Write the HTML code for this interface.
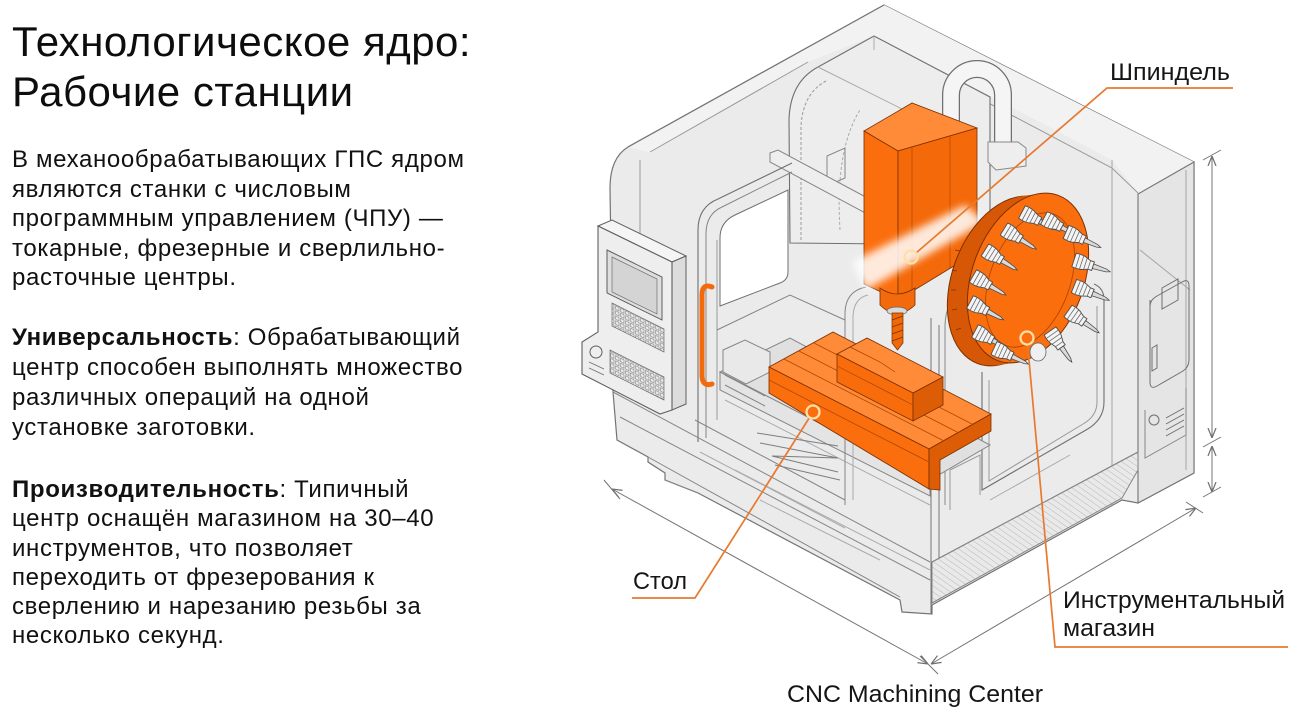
<!DOCTYPE html>
<html><head><meta charset="utf-8">
<style>
html,body{margin:0;padding:0;background:#fff}
body{width:1300px;height:714px;position:relative;overflow:hidden;font-family:"Liberation Sans","Noto Sans CJK SC",sans-serif;color:#111}
.t{position:absolute;left:12px;top:17px;font-size:42px;line-height:50px;letter-spacing:0.5px;white-space:nowrap;color:#0d0d0d}
.p{position:absolute;left:12px;font-size:24px;letter-spacing:0.65px;white-space:nowrap;color:#111}
.p b{font-weight:bold}
svg text{font-family:"Liberation Sans",sans-serif;fill:#151515}
</style></head><body>
<div class="t">Технологическое ядро:<br>Рабочие станции</div>
<div class="p" style="top:145px;line-height:29.6px">В механообрабатывающих ГПС ядром<br>являются станки с числовым<br>программным управлением (ЧПУ) —<br>токарные, фрезерные и сверлильно-<br>расточные центры.</div>
<div class="p" style="top:323px;line-height:30px"><b>Универсальность</b>: Обрабатывающий<br>центр способен выполнять множество<br>различных операций на одной<br>установке заготовки.</div>
<div class="p" style="top:475px;line-height:29.3px"><b>Производительность</b>: Типичный<br>центр оснащён магазином на 30–40<br>инструментов, что позволяет<br>переходить от фрезерования к<br>сверлению и нарезанию резьбы за<br>несколько секунд.</div>

<svg xmlns="http://www.w3.org/2000/svg" width="1300" height="714" viewBox="0 0 1300 714" style="position:absolute;left:0;top:0">
<defs>
<filter id="bl" x="-50%" y="-50%" width="200%" height="200%"><feGaussianBlur stdDeviation="4"/></filter>
<marker id="ar" viewBox="0 0 10 10" refX="10" refY="5" markerWidth="10" markerHeight="10" markerUnits="userSpaceOnUse" orient="auto-start-reverse"><path d="M0,1 L10,5 L0,9" fill="none" stroke="#6f6f6f" stroke-width="1.2"/></marker>
<pattern id="hatch" width="5" height="5" patternUnits="userSpaceOnUse" patternTransform="rotate(-55)"><rect width="5" height="5" fill="#e9e9e9"/><line x1="0" y1="0" x2="0" y2="5" stroke="#b8b8b8" stroke-width="1"/></pattern>
<pattern id="kp" width="5" height="5" patternUnits="userSpaceOnUse" patternTransform="skewY(26)"><rect width="5" height="5" fill="#ececec"/><rect x="0.6" y="0.6" width="3.4" height="3.4" fill="none" stroke="#7a7a7a" stroke-width="0.6"/></pattern>
<g id="tl">
<path d="M0,-7 C5,-8 10,-7 12,-6 L16,-4.5 L20,-4.5 L20,4.5 L16,4.5 L12,6 C10,7 5,8 0,7 Z" fill="#f4f4f4" stroke="#4d4d4d" stroke-width="0.9"/>
<path d="M4,-7.5 L4,7.5 M8,-7 L8,7 M12,-5.8 L12,5.8 M16,-4.5 L16,4.5" stroke="#6a6a6a" stroke-width="0.8"/>
<path d="M20,-2.4 L34,-1.4 L38,0 L34,1.4 L20,2.4 Z" fill="#dadada" stroke="#4d4d4d" stroke-width="0.8"/>
</g>
</defs>

<!-- enclosure silhouette -->
<path d="M884,5 L1194,162 L1194,473 L1138,503 L1122,500 L932,605 L932,614 L902,612 L900,600 L698,493 L665,480 L665,473 L648,462 L648,457 L617,440 L613,392 L610,188 Q610,158 628,147 Z" fill="#ebebeb" stroke="#747474" stroke-width="1.2"/>
<path d="M884,5 L628,147 Q640,150 650,152 L808,62 L874,36 L960,80 L1112,160 L1138,193 L1194,162 Z" fill="#f2f2f2" stroke="none"/>
<path d="M884,5 L628,147" stroke="#747474" stroke-width="1.2"/>
<path d="M650,152 L808,62 M960,88 L1112,168 L1138,193 M640,160 L640,380" stroke="#9a9a9a" fill="none"/>
<!-- right cabinet -->
<polygon points="1138,194 1194,162 1194,473 1138,503" fill="#e5e5e5" stroke="#747474" stroke-width="1.1"/>
<path d="M1112,160 L1112,505 M1186,170 L1186,470 M1140,250 L1190,290" stroke="#a5a5a5" fill="none"/>
<path d="M1150,300 L1150,382 Q1150,390 1157,386 L1183,371 Q1189,367 1189,360 L1189,286 Q1189,278 1182,282 L1157,296 Q1150,300 1150,306 Z" fill="none" stroke="#6f6f6f"/>
<polygon points="1162,288 1178,279 1178,300 1162,309" fill="none" stroke="#6f6f6f"/>
<polygon points="1152,348 1157,345 1157,368 1152,371" fill="none" stroke="#6f6f6f"/>
<path d="M1145,410 L1145,458 L1186,435 L1186,388" fill="none" stroke="#888"/>
<circle cx="1154" cy="420" r="5" fill="none" stroke="#6f6f6f"/>
<path d="M1166,418 L1184,408 M1166,424 L1184,414 M1166,430 L1184,420 M1166,436 L1184,426" stroke="#6f6f6f"/>

<!-- column housing -->
<path d="M790,243 L789,120 Q790,82 818,67 L874,36 L990,97 L990,245 Z" fill="#ededed" stroke="#6f6f6f" stroke-width="1.1"/>
<path d="M801,240 L801,126 Q803,92 828,80" fill="none" stroke="#999" stroke-dasharray="3 2"/>
<path d="M840,230 Q835,150 860,110" fill="none" stroke="#aaa" stroke-dasharray="3 2"/>
<polygon points="827,156 845,148 845,178 827,186" fill="none" stroke="#888"/>
<path d="M874,36 L874,50 M818,67 L940,128" stroke="#aaa" fill="none"/>
<!-- arch tube -->
<path d="M951,125 L951,95 A26,26 0 0 1 1003,95 L1003,146" fill="none" stroke="#6f6f6f" stroke-width="18"/>
<path d="M951,125 L951,95 A26,26 0 0 1 1003,95 L1003,146" fill="none" stroke="#f5f5f5" stroke-width="15.5"/>
<polygon points="988,142 1018,142 1026,148 1026,166 996,170 988,162" fill="#eeeeee" stroke="#888"/>

<!-- interior right frame -->
<path d="M982,372 L982,490 L1086,430 Q1104,420 1104,402 L1104,300 Q1104,288 1094,284" fill="none" stroke="#6f6f6f" stroke-width="1.1"/>
<path d="M989,380 L989,481 L1083,424 Q1097,416 1097,402 L1097,306" fill="none" stroke="#999"/>
<path d="M945,505 L945,325 Q946,300 962,292" fill="none" stroke="#888"/>
<path d="M931,318 L931,614 M939,325 L939,600" fill="none" stroke="#747474"/>
<path d="M950,470 L980,455 L980,495 M950,470 L950,510" stroke="#999" fill="none"/>
<!-- interior floor lines -->
<path d="M725,400 L930,505 M735,470 L930,570 M760,500 L880,560 M990,500 L1070,455 M700,452 L845,528" stroke="#ababab" fill="none"/>
<polygon points="720,372 790,338 990,445 930,480" fill="#e0e0e0" stroke="#858585"/>
<polygon points="720,372 930,480 930,496 720,390" fill="#e4e4e4" stroke="#858585"/>
<polygon points="723,350 745,340 770,352 770,372 746,384 723,372" fill="#e9e9e9" stroke="#858585"/>
<path d="M725,375 L765,396 M725,385 L765,406" stroke="#858585" fill="none"/>
<path d="M757,433 L838,446 M760,443 L838,458 L772,456 L838,472 M775,465 L840,480" stroke="#7d7d7d" fill="none"/>
<!-- center pillar -->
<path d="M845,505 L845,312 Q846,291 866,287" fill="none" stroke="#858585"/>
<path d="M853,500 L853,316 Q854,298 868,295" fill="none" stroke="#aaa"/>

<!-- bar -->
<polygon points="770,153 778,150 918,225 918,234 912,238 770,162" fill="#eeeeee" stroke="#858585"/>

<!-- door frame & window -->
<path d="M698,442 L698,230 Q698,207 718,199 L792,163" fill="none" stroke="#6f6f6f" stroke-width="1.1"/>
<path d="M706,438 L706,234 Q706,214 722,207 L792,172" fill="none" stroke="#858585"/>
<path d="M717,420 L717,240" fill="none" stroke="#999"/>
<path d="M720,306 L720,238 Q720,222 735,215 L788,190 L788,272 Q788,280 780,283 Z" fill="#ffffff" stroke="#6f6f6f"/>
<path d="M695,420 L845,500 M717,330 L790,295 L845,320" stroke="#858585" fill="none"/>

<!-- spindle -->
<polygon points="864,131 912,103 977,128 898,151" fill="#ff8a38" stroke="#7a3000" stroke-width="0.8"/>
<polygon points="864,131 898,151 898,300 864,284" fill="#fb6e0e" stroke="#7a3000" stroke-width="0.8"/>
<polygon points="898,151 977,128 977,252 898,300" fill="#f46909" stroke="#7a3000" stroke-width="0.8"/>
<path d="M912,146 L912,292 M950,136 L950,268" stroke="#b04800" stroke-width="0.7"/>
<path d="M880,288 L880,305 Q897,322 915,305 L915,288 Q897,300 880,288 Z" fill="#f26a0c" stroke="#7a3000" stroke-width="0.8"/>
<ellipse cx="897" cy="311" rx="10" ry="4" fill="#d9d9d9" stroke="#666" stroke-width="0.7"/>
<path d="M892,313 L903,313 L903,343 L897.5,350 L892,343 Z" fill="#f06808" stroke="#7a3000" stroke-width="0.7"/>
<path d="M892,320 L903,316 M892,327 L903,323 M892,334 L903,330 M892,341 L903,337" stroke="#7a3000" stroke-width="0.7"/>
<!-- glow -->
<polygon points="852,262 965,205 985,222 866,290" fill="#ffffff" opacity="0.85" filter="url(#bl)"/>

<!-- magazine -->
<ellipse cx="1008" cy="281" rx="56" ry="88" transform="rotate(20 1008 281)" fill="#d65806" stroke="#7a3000" stroke-width="1"/>
<ellipse cx="1012" cy="280.4" rx="56" ry="88" transform="rotate(20 1012 280.4)" fill="#d65806"/>
<ellipse cx="1016" cy="279.8" rx="56" ry="88" transform="rotate(20 1016 279.8)" fill="#d65806"/>
<ellipse cx="1020" cy="279.2" rx="56" ry="88" transform="rotate(20 1020 279.2)" fill="#d65806"/>
<ellipse cx="1024" cy="278.6" rx="56" ry="88" transform="rotate(20 1024 278.6)" fill="#d65806"/>
<ellipse cx="1028" cy="278" rx="56" ry="88" transform="rotate(20 1028 278)" fill="#fa6e0e" stroke="#7a3000" stroke-width="1"/>
<ellipse cx="1030" cy="280" rx="40" ry="70" transform="rotate(20 1030 280)" fill="none" stroke="#a84400" stroke-width="0.8"/>
<path d="M955,250 L960,251 M952,270 L957,271 M951,290 L956,290 M952,310 L957,309 M956,330 L961,328" stroke="#7a3000" stroke-width="0.8"/>
<use href="#tl" transform="translate(1022,212) rotate(28)"/>
<use href="#tl" transform="translate(1044,218) rotate(28)"/>
<use href="#tl" transform="translate(1066,232) rotate(24)"/>
<use href="#tl" transform="translate(1074,260) rotate(18)"/>
<use href="#tl" transform="translate(1074,286) rotate(22)"/>
<use href="#tl" transform="translate(1068,311) rotate(35)"/>
<use href="#tl" transform="translate(1050,331) rotate(55)"/>
<use href="#tl" transform="translate(1004,229) rotate(32)"/>
<use href="#tl" transform="translate(985,250) rotate(32)"/>
<use href="#tl" transform="translate(973,276) rotate(30)"/>
<use href="#tl" transform="translate(970,302) rotate(28)"/>
<use href="#tl" transform="translate(975,331) rotate(28)"/>
<use href="#tl" transform="translate(994,348) rotate(25)"/>
<ellipse cx="1038" cy="352" rx="8" ry="9" fill="#f0f0f0" stroke="#666" stroke-width="0.8"/>

<!-- table -->
<polygon points="769,367 833,332 991,414 929,449" fill="#ff8a38" stroke="#7a3000" stroke-width="0.8"/>
<polygon points="769,367 929,449 929,489 769,393" fill="#fa6e0e" stroke="#7a3000" stroke-width="0.8"/>
<polygon points="929,449 991,414 991,431 940,460 940,490 929,489" fill="#dd5d07" stroke="#7a3000" stroke-width="0.8"/>
<path d="M784,359 L944,441 M799,351 L959,433 M814,343 L974,425 M769,380 L929,462" stroke="#b04800" stroke-width="0.8" fill="none"/>
<!-- vise -->
<polygon points="837,354 867,338 943,377 913,393" fill="#ff8a38" stroke="#7a3000" stroke-width="0.8"/>
<polygon points="837,354 913,393 913,421 837,382" fill="#f86c0c" stroke="#7a3000" stroke-width="0.8"/>
<polygon points="913,393 943,377 943,405 913,421" fill="#dd5d07" stroke="#7a3000" stroke-width="0.8"/>
<path d="M850,347 L880,362 L895,372 M837,366 L913,405" stroke="#a84400" stroke-width="0.7" fill="none"/>

<!-- control panel -->
<polygon points="598,226 612,220 686,256 672,262" fill="#f5f5f5" stroke="#5f5f5f"/>
<polygon points="672,262 686,256 686,404 672,410" fill="#dcdcdc" stroke="#5f5f5f"/>
<polygon points="598,226 672,262 672,410 660,414 582,374 582,342 598,332" fill="#eeeeee" stroke="#5f5f5f" stroke-width="1.1"/>
<polygon points="607,250 662,277 662,320 607,293" fill="#dedede" stroke="#5f5f5f"/>
<polygon points="612,257 657,279 657,314 612,292" fill="#d4d4d4" stroke="#6f6f6f" stroke-width="0.7"/>
<polygon points="612,303 664,329 664,352 612,326" fill="url(#kp)" stroke="#6f6f6f" stroke-width="0.7"/>
<polygon points="610,350 664,377 664,400 610,373" fill="url(#kp)" stroke="#6f6f6f" stroke-width="0.7"/>
<circle cx="596" cy="352" r="6" fill="#eee" stroke="#5f5f5f"/>
<path d="M589,362 L604,369 M589,368 L604,375" stroke="#6f6f6f" stroke-width="0.8"/>
<!-- handle -->
<path d="M712,287 Q702,283 702,295 L702,375 Q702,387 712,384" fill="none" stroke="#f26a0c" stroke-width="5" stroke-linecap="round"/>

<!-- base -->
<path d="M613,392 L930,562 M620,417 L930,580 M648,457 L900,597 M665,480 L698,493" stroke="#858585" fill="none"/>
<polygon points="932,562 1138,452 1138,470 1122,498 932,603" fill="url(#hatch)" stroke="#858585"/>
<path d="M932,562 L1138,452" stroke="#858585"/>

<!-- dimension lines -->
<path d="M612,489 L928,664" stroke="#747474" stroke-width="1" marker-start="url(#ar)" marker-end="url(#ar)" fill="none"/>
<path d="M931,664 L1196,508" stroke="#747474" stroke-width="1" marker-start="url(#ar)" marker-end="url(#ar)" fill="none"/>
<path d="M1212,156 L1212,438" stroke="#747474" stroke-width="1" marker-start="url(#ar)" marker-end="url(#ar)" fill="none"/>
<path d="M1212,446 L1212,492" stroke="#747474" stroke-width="1" marker-start="url(#ar)" marker-end="url(#ar)" fill="none"/>
<path d="M1203,160 L1221,150 M1203,447 L1221,437 M1203,497 L1221,487 M1186,502 L1203,513 M604,480 L620,499 M920,656 L938,674" stroke="#747474" stroke-width="1"/>

<!-- leaders -->
<path d="M916,253 L1107,88 L1233,88" fill="none" stroke="#e8792e" stroke-width="1.7"/>
<path d="M809.5,417.5 L695,598 L632,598" fill="none" stroke="#e8792e" stroke-width="1.7"/>
<path d="M1027.6,344.5 L1055,647 L1288,647" fill="none" stroke="#e8792e" stroke-width="1.7"/>
<circle cx="911" cy="257" r="6.5" fill="none" stroke="#ffdfa6" stroke-width="2.3"/>
<circle cx="813" cy="412" r="6.5" fill="none" stroke="#ffdfa6" stroke-width="2.3"/>
<circle cx="1027" cy="338" r="6.5" fill="none" stroke="#ffdfa6" stroke-width="2.3"/>

<!-- labels -->
<text x="1110" y="80" font-size="24" textLength="120" lengthAdjust="spacingAndGlyphs">Шпиндель</text>
<text x="633" y="589" font-size="24" textLength="54" lengthAdjust="spacingAndGlyphs">Стол</text>
<text x="1063" y="608" font-size="24" textLength="222" lengthAdjust="spacingAndGlyphs">Инструментальный</text>
<text x="1063" y="636" font-size="24" textLength="92" lengthAdjust="spacingAndGlyphs">магазин</text>
<text x="787" y="702" font-size="24" textLength="256" lengthAdjust="spacingAndGlyphs">CNC Machining Center</text>
</svg>
</body></html>
